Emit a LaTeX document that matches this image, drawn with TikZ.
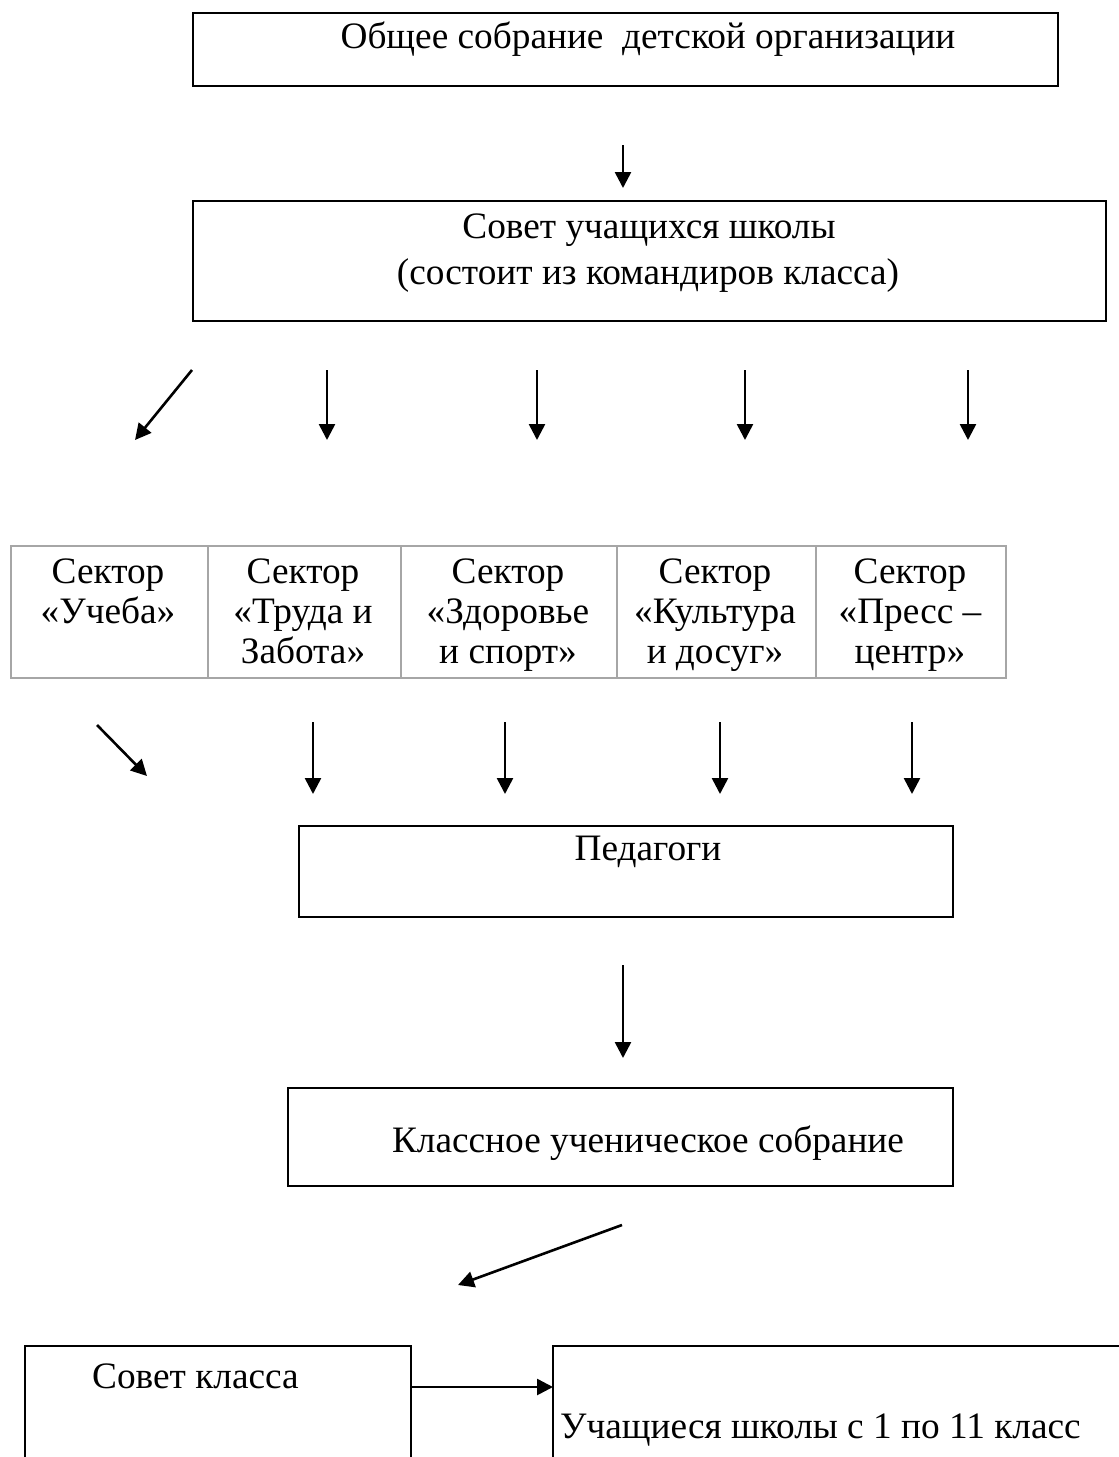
\documentclass[tikz,border=0pt]{standalone}
\usepackage{fontspec}
\setmainfont{Liberation Serif}
\usetikzlibrary{arrows.meta}
\begin{document}
\begin{tikzpicture}[x=1pt,y=-1pt,
  box/.style={draw=black,line width=2.2pt,inner sep=0pt},
  cell/.style={draw=black!35,line width=2pt,inner sep=0pt},
  lbl/.style={inner sep=0pt,font=\fontsize{37.3}{40}\selectfont},
  arr/.style={line width=2.6pt,-{Triangle[length=16pt,width=16pt]}}]
\useasboundingbox (0,0) rectangle (1119,1457);
\clip (0,0) rectangle (1119,1457);
% boxes
\node[box,minimum width=865pt,minimum height=73pt,anchor=north west] (b1) at (192,12) {};
\node[box,minimum width=913pt,minimum height=120pt,anchor=north west] (b2) at (192,200) {};
\node[box,minimum width=654pt,minimum height=91pt,anchor=north west] (b3) at (298,825) {};
\node[box,minimum width=665pt,minimum height=98pt,anchor=north west] (b4) at (287,1087) {};
\node[box,minimum width=386pt,minimum height=160pt,anchor=north west] (b5) at (24,1345) {};
\node[box,minimum width=620pt,minimum height=160pt,anchor=north west] (b6) at (552,1345) {};
% table cells
\node[cell,minimum width=197pt,minimum height=132pt,anchor=north west] (c1) at (10,545) {};
\node[cell,minimum width=193pt,minimum height=132pt,anchor=north west] (c2) at (207,545) {};
\node[cell,minimum width=216pt,minimum height=132pt,anchor=north west] (c3) at (400,545) {};
\node[cell,minimum width=199pt,minimum height=132pt,anchor=north west] (c4) at (616,545) {};
\node[cell,minimum width=190pt,minimum height=132pt,anchor=north west] (c5) at (815,545) {};
% texts
\node[lbl,anchor=base] (t1) at (648,48) {Общее собрание\ \ детской организации};
\node[lbl,anchor=base] (t2a) at (649,238) {Совет учащихся школы};
\node[lbl,anchor=base] (t2b) at (648,284) {(состоит из командиров класса)};
\node[lbl,anchor=base] (t3) at (648,860) {Педагоги};
\node[lbl,anchor=base] (t4) at (648,1152) {Классное ученическое собрание};
\node[lbl,anchor=base west] (t5) at (92,1388) {Совет класса};
\node[lbl,anchor=base west] (t6) at (560,1438) {Учащиеся школы с 1 по 11 класс};
\node[lbl,anchor=north,align=center] (s1) at (108,559) {Сектор\\«Учеба»};
\node[lbl,anchor=north,align=center] (s2) at (303,559) {Сектор\\«Труда и\\Забота»};
\node[lbl,anchor=north,align=center] (s3) at (508,559) {Сектор\\«Здоровье\\и спорт»};
\node[lbl,anchor=north,align=center] (s4) at (715,559) {Сектор\\«Культура\\и досуг»};
\node[lbl,anchor=north,align=center] (s5) at (910,559) {Сектор\\«Пресс –\\центр»};
% arrow coordinates
\coordinate (a1s) at (623,145); \coordinate (a1e) at (623,188);
\coordinate (r1s) at (192,370); \coordinate (r1e) at (135,440);
\coordinate (r2s) at (327,370); \coordinate (r2e) at (327,440);
\coordinate (r3s) at (537,370); \coordinate (r3e) at (537,440);
\coordinate (r4s) at (745,370); \coordinate (r4e) at (745,440);
\coordinate (r5s) at (968,370); \coordinate (r5e) at (968,440);
\coordinate (q1s) at (97,725); \coordinate (q1e) at (147,776);
\coordinate (q2s) at (313,722); \coordinate (q2e) at (313,794);
\coordinate (q3s) at (505,722); \coordinate (q3e) at (505,794);
\coordinate (q4s) at (720,722); \coordinate (q4e) at (720,794);
\coordinate (q5s) at (912,722); \coordinate (q5e) at (912,794);
\coordinate (a3s) at (623,965); \coordinate (a3e) at (623,1058);
\coordinate (a4s) at (622,1225); \coordinate (a4e) at (458,1285);
\coordinate (a5s) at (410,1387); \coordinate (a5e) at (553,1387);
\foreach \p in {a1,r1,r2,r3,r4,r5,q1,q2,q3,q4,q5,a3,a4,a5}
  \draw[arr] (\p s) -- (\p e);
\end{tikzpicture}
\end{document}
